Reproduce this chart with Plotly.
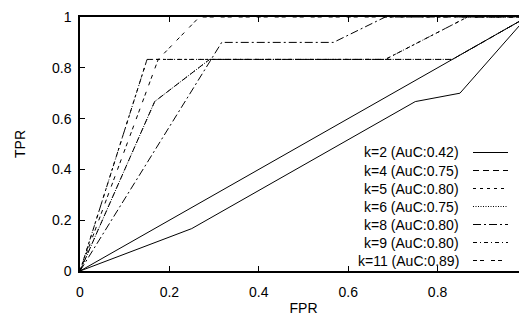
import plotly.graph_objects as go

# ---- data ----
diag_fpr = [0, 1]
diag_tpr = [0, 1]

k2_fpr = [0, 0.25, 0.75, 0.85, 1]
k2_tpr = [0, 0.167, 0.667, 0.70, 1]

k4_fpr = [0, 0.167, 0.29, 0.833, 1]
k4_tpr = [0, 0.667, 0.833, 0.833, 1]

k5_fpr = [0, 0.15, 0.683, 0.867, 1]
k5_tpr = [0, 0.833, 0.833, 1, 1]

k6_fpr = [0, 0.167, 0.29, 0.833, 1]
k6_tpr = [0, 0.667, 0.833, 0.833, 1]

k8_fpr = [0, 0.317, 0.567, 0.683, 1]
k8_tpr = [0, 0.9, 0.9, 1, 1]

k9_fpr = [0, 0.15, 0.683, 0.867, 1]
k9_tpr = [0, 0.833, 0.833, 1, 1]

k11_fpr = [0, 0.175, 0.267, 1]
k11_tpr = [0, 0.833, 1, 1]

labels = ["k=2 (AuC:0.42)", "k=4 (AuC:0.75)", "k=5 (AuC:0.80)", "k=6 (AuC:0.75)",
          "k=8 (AuC:0.80)", "k=9 (AuC:0.80)", "k=11 (AuC:0.89)"]

x_ticks = [0, 0.2, 0.4, 0.6, 0.8, 1]
x_ticktext = ["0", "0.2", "0.4", "0.6", "0.8", ""]
y_ticks = [0, 0.2, 0.4, 0.6, 0.8, 1]
y_ticktext = ["0", "0.2", "0.4", "0.6", "0.8", "1"]

# ---- styles ----
dashes = ["solid", "6px,4px", "3px,4px", "1px,1.5px", "8px,3px,2px,3px", "4px,3px,1px,3px",
          "4px,3px,4px,7px"]
series = [(k2_fpr, k2_tpr), (k4_fpr, k4_tpr), (k5_fpr, k5_tpr), (k6_fpr, k6_tpr),
          (k8_fpr, k8_tpr), (k9_fpr, k9_tpr), (k11_fpr, k11_tpr)]

FONT = "Liberation Sans, Arial, Helvetica, sans-serif"
FS = 14
OFF = 8  # default page body margin
W, H = 527 - OFF, 320 - OFF
ML, MR, MT, MB = 80 - OFF, 0, 17 - OFF, 49
PW, PH = W - ML - MR, H - MT - MB

fig = go.Figure()
fig.add_trace(go.Scatter(x=diag_fpr, y=diag_tpr, mode="lines", showlegend=False,
                         line=dict(color="black", width=1)))
for (fx, ty), name, d in zip(series, labels, dashes):
    fig.add_trace(go.Scatter(x=fx, y=ty, mode="lines", name=name, showlegend=False,
                             line=dict(color="black", width=1, dash=d)))

# gnuplot-style key: text right-aligned, sample line to the right (page pixel coords)
row0, row_step = 152.5, 18.0
plot_left, plot_bottom = 80, 271
for i, (name, d) in enumerate(zip(labels, dashes)):
    ypx = row0 + i * row_step
    yp = (plot_bottom - ypx) / PH
    fig.add_annotation(x=(461 - plot_left) / PW, y=yp, xref="paper", yref="paper", text=name,
                       showarrow=False, xanchor="right", yanchor="middle",
                       font=dict(family=FONT, size=FS, color="black"))
    fig.add_shape(type="line", xref="paper", yref="paper",
                  x0=(473 - plot_left) / PW, x1=(508 - plot_left) / PW, y0=yp, y1=yp,
                  line=dict(color="black", width=1, dash=d))

axis_common = dict(showgrid=False, zeroline=False, showline=True, linecolor="black",
                   linewidth=1.5, mirror="allticks", ticks="inside", ticklen=5,
                   tickcolor="black", tickwidth=1, automargin=False,
                   tickfont=dict(family=FONT, size=FS, color="black"))
fig.update_xaxes(range=[0, 1], tickvals=x_ticks, ticktext=x_ticktext,
                 ticklabelstandoff=7,
                 title=dict(text="FPR", font=dict(family=FONT, size=FS, color="black"),
                            standoff=5), **axis_common)
fig.update_yaxes(range=[0, 1], tickvals=y_ticks, ticktext=y_ticktext,
                 ticklabelstandoff=4,
                 title=dict(text="TPR", font=dict(family=FONT, size=FS, color="black"),
                            standoff=23), **axis_common)
fig.update_layout(width=W, height=H, margin=dict(l=ML, r=MR, t=MT, b=MB),
                  paper_bgcolor="white", plot_bgcolor="white")
fig.write_html("out.html")
